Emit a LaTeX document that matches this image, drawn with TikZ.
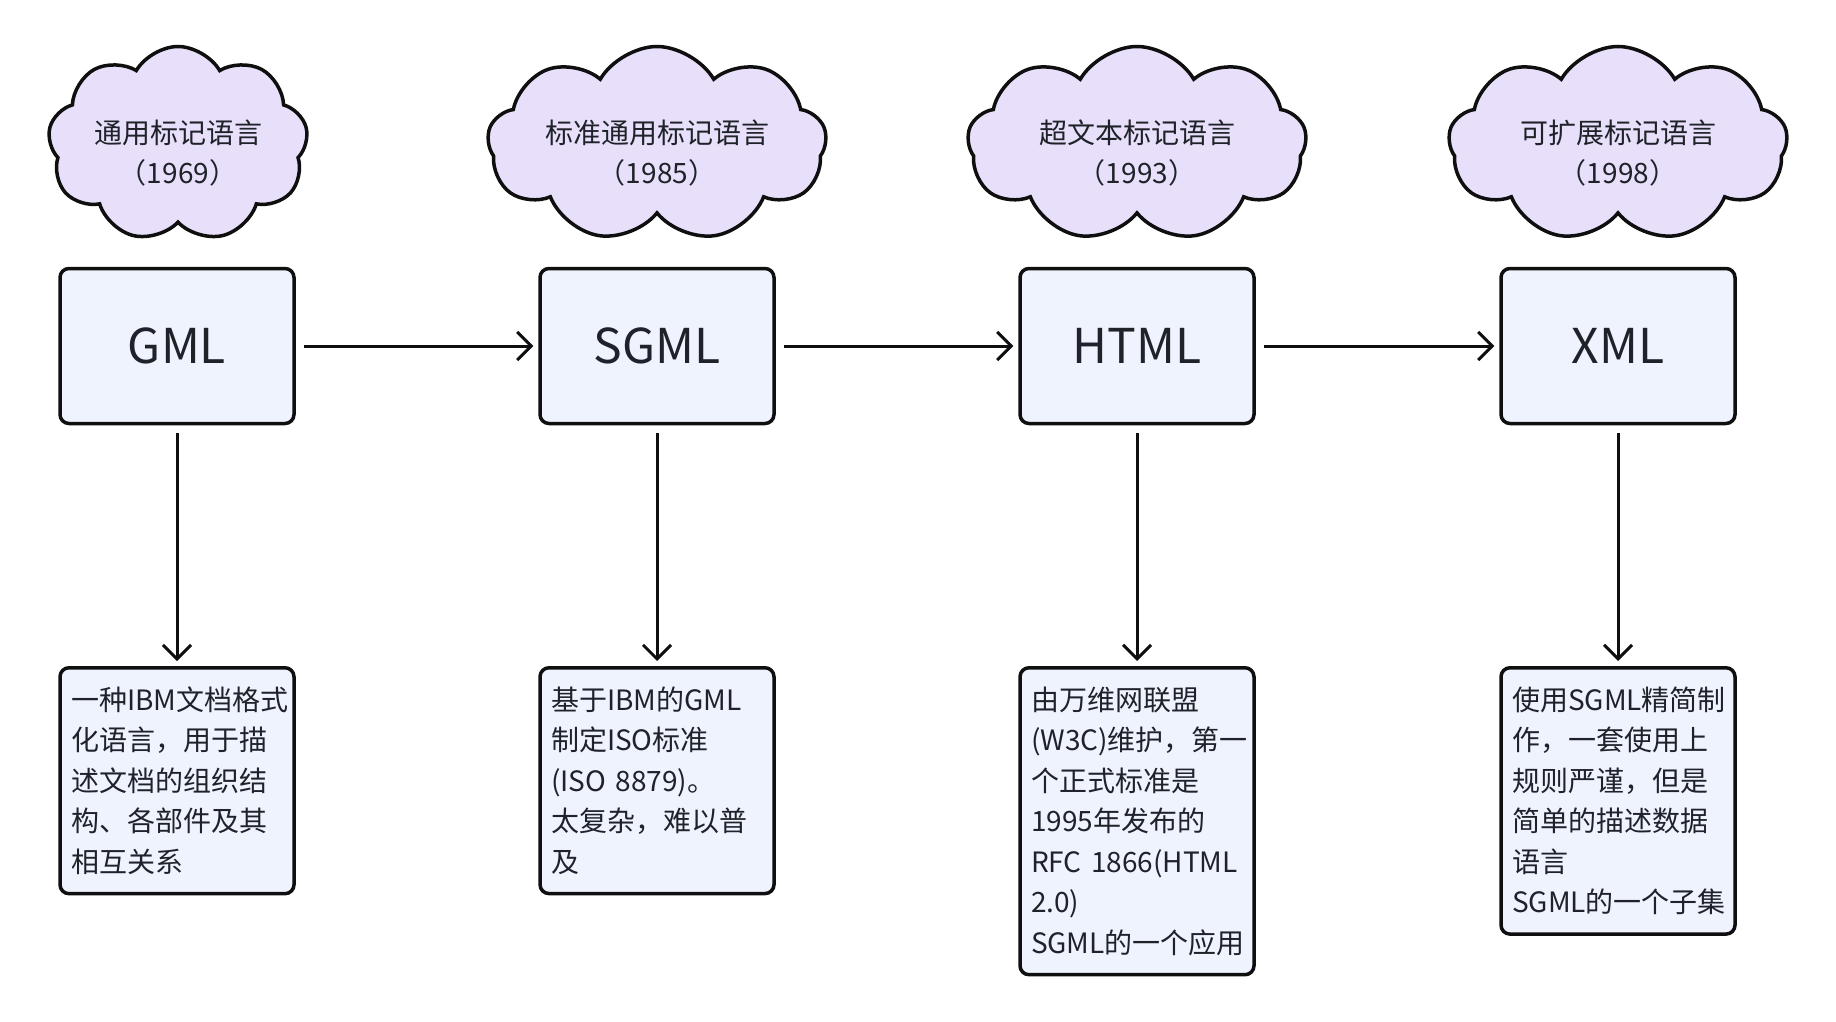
\documentclass[tikz,border=0pt]{standalone}
\usepackage{fontspec}
\setmainfont{Noto Sans CJK SC}
\usepackage{tikz}
\usetikzlibrary{positioning,shapes.symbols,arrows.meta}

\definecolor{boxfill}{RGB}{238,243,253}
\definecolor{cloudfill}{RGB}{232,224,250}
\definecolor{inktext}{RGB}{31,35,41}
\definecolor{edge}{RGB}{15,15,15}

\tikzset{
  langbox/.style={draw=edge, fill=boxfill, line width=3.5pt, rounded corners=9pt,
    minimum width=234pt, minimum height=155pt, text=inktext,
    font=\fontsize{48}{52}\selectfont},
  descbox/.style={draw=edge, fill=boxfill, line width=3.5pt, rounded corners=9pt,
    anchor=north, text width=212pt, inner xsep=11pt, inner ysep=19pt,
    align=left, text=inktext, font=\fontsize{28}{40.5}\selectfont},
  yearcloud/.style={draw=edge, fill=cloudfill, line width=3.5pt, cloud, cloud puffs=9,
    cloud puff arc=120, cloud ignores aspect, minimum height=195pt,
    align=center, text=inktext, font=\fontsize{28}{40}\selectfont}, 
  flowarrow/.style={draw=edge, line width=3pt,
    -{Straight Barb[length=14pt,width=28pt,line width=3pt]},
    shorten <=8pt, shorten >=5pt}
}
% lift the first line box so the two lines sit a bit low in the cloud
\newcommand{\cloudtop}{\rule{0pt}{41pt}}

\begin{document}
\begin{tikzpicture}[x=1pt,y=-1pt]
  \useasboundingbox (0,0) rectangle (1836,1022);

  % clouds with names and years
  \node[yearcloud, minimum width=260pt] (c1) at (178,144) {\cloudtop 通用标记语言\\（1969）};
  \node[yearcloud, minimum width=339pt] (c2) at (657,144) {\cloudtop 标准通用标记语言\\（1985）};
  \node[yearcloud, minimum width=339pt] (c3) at (1137,144) {\cloudtop 超文本标记语言\\（1993）};
  \node[yearcloud, minimum width=339pt] (c4) at (1618,144) {\cloudtop 可扩展标记语言\\（1998）};

  % language boxes
  \node[langbox] (gml) at (177,346) {GML};
  \node[langbox] (sgml) at (657,346) {SGML};
  \node[langbox] (html) at (1137,346) {HTML};
  \node[langbox] (xml) at (1618,346) {XML};

  % descriptions
  \node[descbox] (dgml) at (177,666) {一种IBM文档格式\\化语言，用于描\\述文档的组织结\\构、各部件及其\\相互关系};
  \node[descbox] (dsgml) at (657,666) {基于IBM的GML\\制定ISO标准\\(ISO 8879)。\\太复杂，难以普\\及};
  \node[descbox] (dhtml) at (1137,666) {由万维网联盟\\(W3C)维护，第一\\个正式标准是\\1995年发布的\\RFC 1866(HTML\\2.0)\\SGML的一个应用};
  \node[descbox] (dxml) at (1618,666) {使用SGML精简制\\作，一套使用上\\规则严谨，但是\\简单的描述数据\\语言\\SGML的一个子集};

  % timeline
  \draw[flowarrow] (gml) -- (sgml);
  \draw[flowarrow] (sgml) -- (html);
  \draw[flowarrow] (html) -- (xml);

  \draw[flowarrow] (gml) -- (dgml);
  \draw[flowarrow] (sgml) -- (dsgml);
  \draw[flowarrow] (html) -- (dhtml);
  \draw[flowarrow] (xml) -- (dxml);
\end{tikzpicture}
\end{document}
